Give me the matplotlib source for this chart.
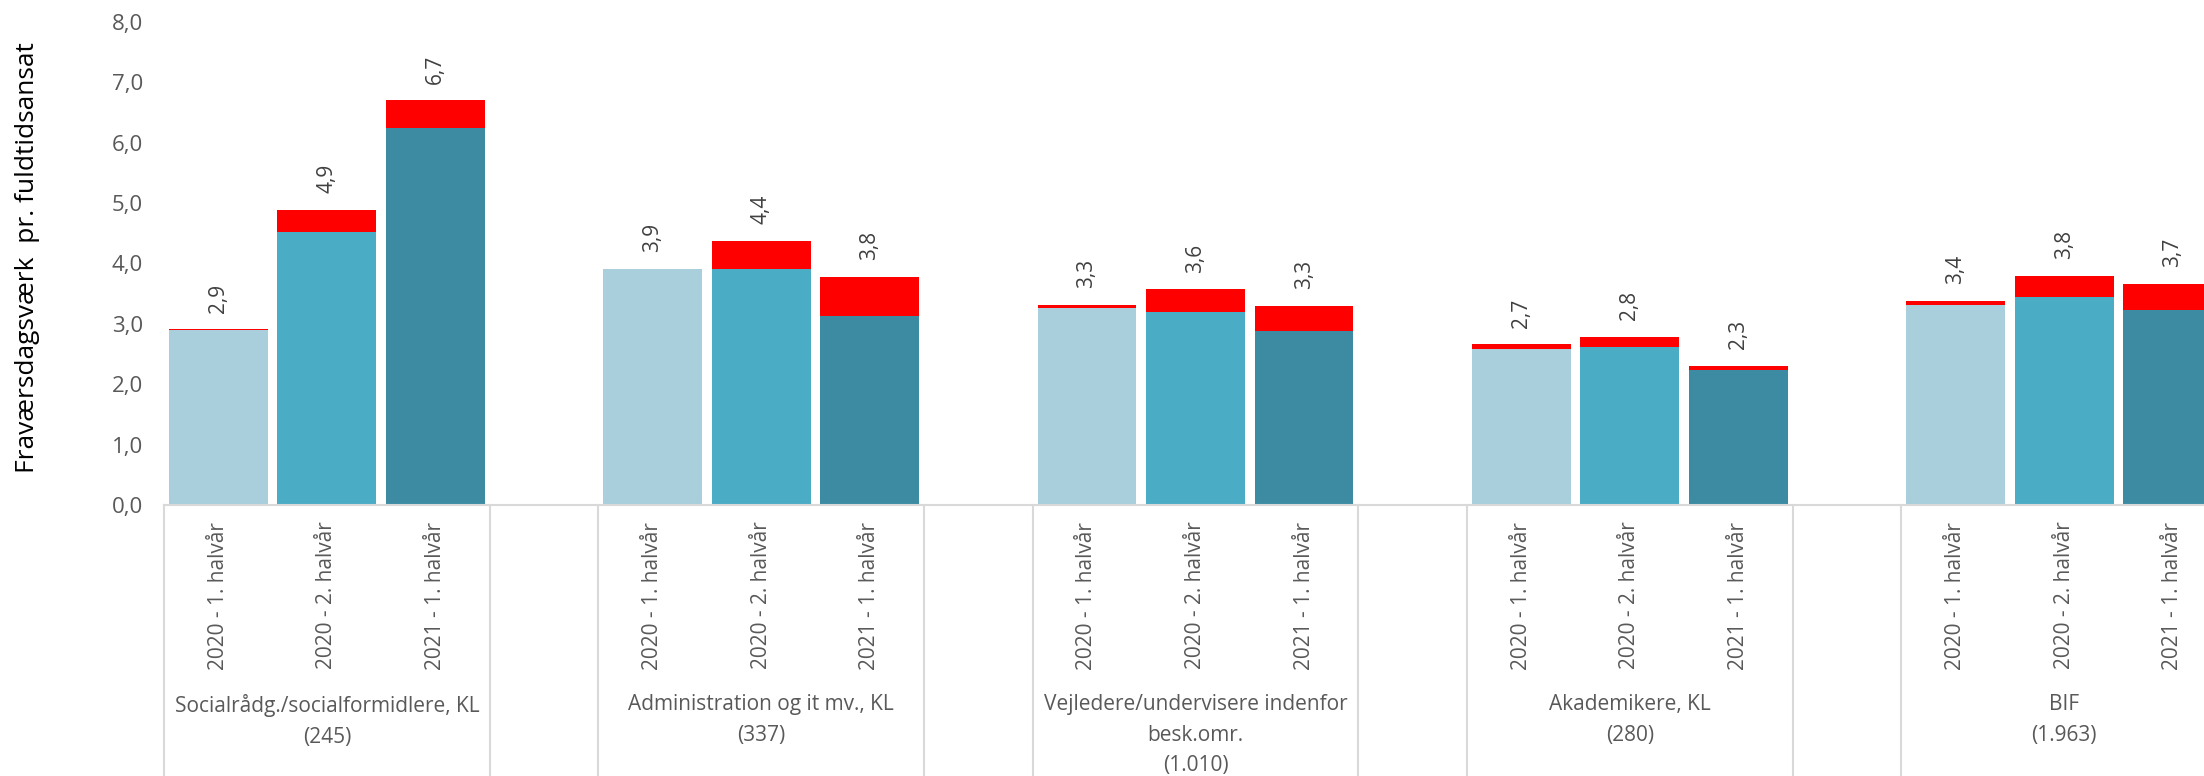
import matplotlib
matplotlib.use("Agg")
import matplotlib.pyplot as plt
from matplotlib import transforms
from matplotlib.lines import Line2D

# ---- data ----
groups = ["Socialrådg./socialformidlere, KL\n(245)",
          "Administration og it mv., KL\n(337)",
          "Vejledere/undervisere indenfor\nbesk.omr.\n(1.010)",
          "Akademikere, KL\n(280)",
          "BIF\n(1.963)"]
periods = ["2020 - 1. halvår", "2020 - 2. halvår", "2021 - 1. halvår"]
# lower (blue) segment per group, per period
base_p1 = [2.90, 3.91, 3.27, 2.58, 3.31]
base_p2 = [4.52, 3.91, 3.19, 2.62, 3.44]
base_p3 = [6.25, 3.13, 2.89, 2.24, 3.23]
# upper (red) segment per group, per period
red_p1 = [0.01, 0.00, 0.04, 0.08, 0.07]
red_p2 = [0.37, 0.46, 0.38, 0.16, 0.36]
red_p3 = [0.45, 0.65, 0.41, 0.07, 0.43]
y_ticks = [0, 1, 2, 3, 4, 5, 6, 7, 8]
y_label = "Fraværsdagsværk  pr. fuldtidsansat"

bases = [base_p1, base_p2, base_p3]
reds = [red_p1, red_p2, red_p3]
colors = ["#A9CEDC", "#4BACC6", "#3C8BA2"]
red_color = "#FF0000"

W, H = 2204, 776
fig = plt.figure(figsize=(W / 100, H / 100), dpi=100)
plt.rcParams['font.family'] = ['Open Sans', 'DejaVu Sans']

y0_px, ytop_px = 505, 22
left_px, right_px = 164, 2227
ax = fig.add_axes([left_px / W, (H - y0_px) / H, (right_px - left_px) / W, (y0_px - ytop_px) / H])

positions, labels = [], []
for g in range(len(groups)):
    for j in range(3):
        pos = g * 4 + j
        b = bases[j][g]
        r = reds[j][g]
        ax.bar(pos, b, width=0.91, color=colors[j], linewidth=0)
        ax.bar(pos, r, bottom=b, width=0.91, color=red_color, linewidth=0)
        total = b + r
        ax.annotate(f"{total:.1f}".replace('.', ','), (pos, total), xytext=(0, 12),
                    textcoords='offset points', rotation=90, ha='center', va='bottom',
                    fontsize=15, color='#404040')
        positions.append(pos)
        labels.append(periods[j])

ax.set_xlim(-0.5, 18.5)
ax.set_ylim(0, 8)
ax.set_yticks(y_ticks)
ax.set_yticklabels([f"{v:.1f}".replace('.', ',') for v in y_ticks], fontsize=16, color='#595959')
ax.set_xticks(positions)
ax.set_xticklabels(labels, rotation=90, fontsize=15, color='#595959', va='top')
ax.tick_params(axis='both', length=0)
ax.tick_params(axis='x', pad=12)
ax.tick_params(axis='y', pad=15)
for s in ['left', 'right', 'top']:
    ax.spines[s].set_visible(False)
ax.spines['bottom'].set_color('#D9D9D9')
ax.spines['bottom'].set_linewidth(1.5)

trans = transforms.blended_transform_factory(ax.transData, fig.transFigure)
for g, name in enumerate(groups):
    ax.text(g * 4 + 1, (H - 694) / H, name, transform=trans, ha='center', va='top',
            fontsize=15, color='#595959', linespacing=1.6, clip_on=False)
    for xv in (g * 4 - 0.5, g * 4 + 2.5):
        ax.add_line(Line2D([xv, xv], [(H - y0_px) / H, 0], transform=trans,
                           color='#D9D9D9', linewidth=1.5, clip_on=False))

fig.text(28 / W, (H - 258) / H, y_label, rotation=90, ha='center', va='center',
         fontsize=19, color='#000000')

fig.savefig("out.png", dpi=100)
